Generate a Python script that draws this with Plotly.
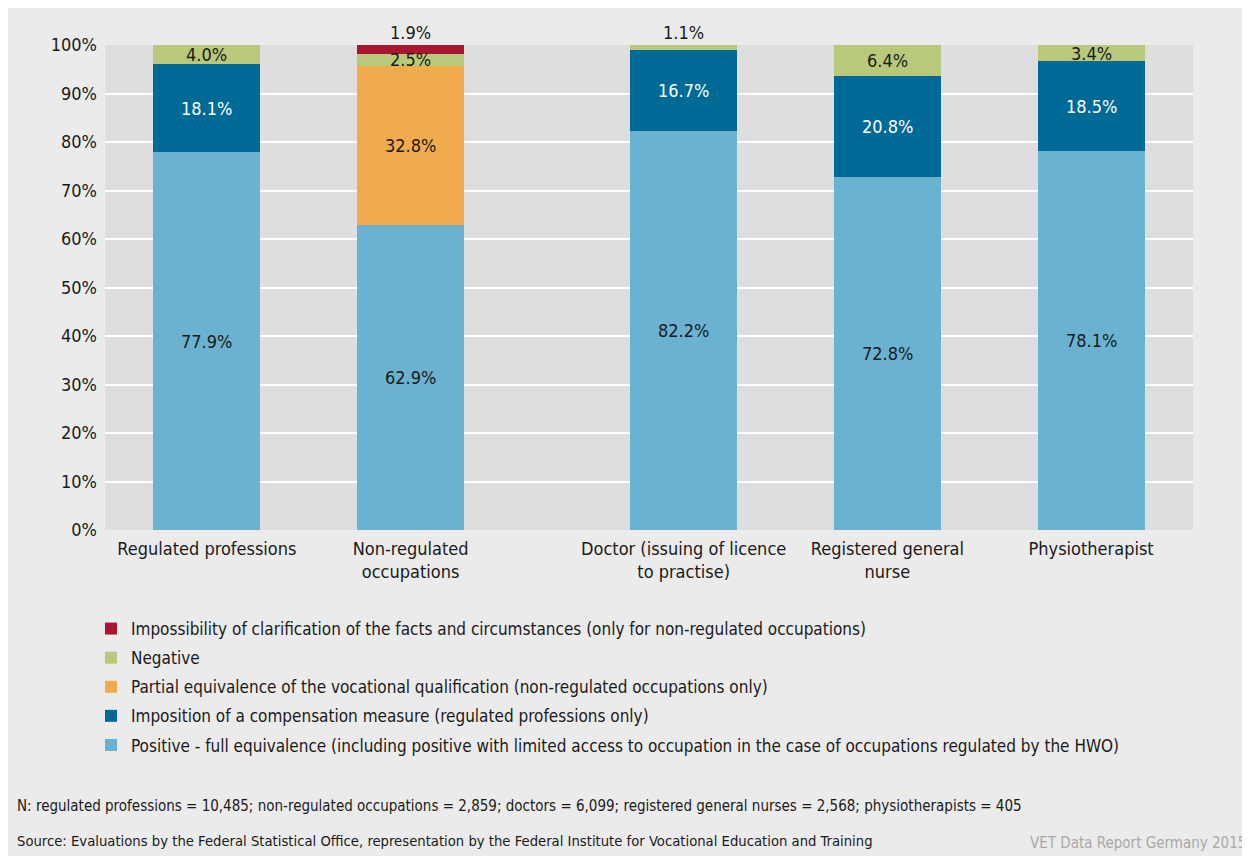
import plotly.graph_objects as go

categories = ["Regulated professions", "Non-regulated<br>occupations",
              "Doctor (issuing of licence<br>to practise)", "Registered general<br>nurse", "Physiotherapist"]
series_names = [
    "Positive - full equivalence (including positive with limited access to occupation in the case of occupations regulated by the HWO)",
    "Imposition of a compensation measure (regulated professions only)",
    "Partial equivalence of the vocational qualification (non-regulated occupations only)",
    "Negative",
    "Impossibility of clarification of the facts and circumstances (only for non-regulated occupations)",
]
positive = [77.9, 62.9, 82.2, 72.8, 78.1]
compensation = [18.1, 0, 16.7, 20.8, 18.5]
partial = [0, 32.8, 0, 0, 0]
negative = [4.0, 2.5, 1.1, 6.4, 3.4]
impossibility = [0, 1.9, 0, 0, 0]
y_ticks = [0, 10, 20, 30, 40, 50, 60, 70, 80, 90, 100]
y_ticktext = ["0%", "10%", "20%", "30%", "40%", "50%", "60%", "70%", "80%", "90%", "100%"]
footnote = "N: regulated professions = 10,485; non-regulated occupations = 2,859; doctors = 6,099; registered general nurses = 2,568; physiotherapists = 405"
source = "Source: Evaluations by the Federal Statistical Office, representation by the Federal Institute for Vocational Education and Training"
credit = "VET Data Report Germany 2015"

# layout: bar positions (gap between the two groups)
x_pos = [0, 1, 2.34, 3.34, 4.34]
colors = ["#6AB2CF", "#006A96", "#F0AC4C", "#B8C97B", "#A8172E"]
label_colors = ["#1a1a1a", "#ffffff", "#1a1a1a", "#1a1a1a", "#1a1a1a"]
FONT = "DejaVu Sans Condensed, Liberation Sans Narrow, sans-serif"

all_series = [positive, compensation, partial, negative, impossibility]

# plot area in figure pixels
PL, PR, PT, PB = 97, 1185, 37, 522
PW, PH = PR - PL, PB - PT


def px(xp):
    return (xp - PL) / PW


def py(yp):
    return (PB - yp) / PH


fig = go.Figure()
n = len(series_names)
for k, (name, vals, col) in enumerate(zip(series_names, all_series, colors)):
    fig.add_trace(go.Bar(x=x_pos, y=vals, name=name, legendgroup=f"g{k}", legendrank=n - k,
                         marker=dict(color=col, line=dict(width=0)),
                         width=0.525, hoverinfo="skip"))

annotations = []
base = [0.0] * len(x_pos)
totals = [sum(s[i] for s in all_series) for i in range(len(x_pos))]
for vals, lc in zip(all_series, label_colors):
    for i, v in enumerate(vals):
        if v > 0:
            if v < 2:
                annotations.append(dict(x=x_pos[i], y=min(totals[i], 100), text=f"{v:.1f}%", showarrow=False,
                                        yanchor="bottom", font=dict(family=FONT, size=18, color="#1a1a1a")))
            else:
                annotations.append(dict(x=x_pos[i], y=base[i] + v / 2, text=f"{v:.1f}%", showarrow=False,
                                        font=dict(family=FONT, size=18, color=lc)))
        base[i] += v

annotations += [
    dict(xref="paper", yref="paper", x=px(7), y=py(798), xanchor="left", yanchor="middle",
         text=footnote, showarrow=False, font=dict(family=FONT, size=15, color="#1a1a1a")),
    dict(xref="paper", yref="paper", x=px(7), y=py(832), xanchor="left", yanchor="middle",
         text=source, showarrow=False, font=dict(family=FONT, size=14.7, color="#1a1a1a")),
    dict(xref="paper", yref="paper", x=px(1240), y=py(835), xanchor="right", yanchor="middle",
         text=credit, showarrow=False, font=dict(family=FONT, size=15, color="#A8A8A8")),
]

fig.update_layout(
    width=1250, height=856,
    margin=dict(l=PL, r=1250 - PR, t=PT, b=856 - PB),
    barmode="stack",
    paper_bgcolor="#EBEBEB",
    plot_bgcolor="#DEDEDE",
    font=dict(family=FONT, size=18, color="#1a1a1a"),
    xaxis=dict(tickmode="array", tickvals=x_pos, ticktext=categories, range=[-0.5, 4.84],
               showgrid=False, zeroline=False, ticks="", tickfont=dict(size=18), ticklabelstandoff=6),
    yaxis=dict(range=[0, 100], tickmode="array", tickvals=y_ticks, ticktext=y_ticktext,
               showgrid=True, gridcolor="white", gridwidth=2, zeroline=False, ticks="",
               tickfont=dict(size=18), ticklabelstandoff=7),
    legend=dict(orientation="v", traceorder="grouped", x=px(83), xanchor="left",
                y=py(603), yanchor="top", bgcolor="rgba(0,0,0,0)",
                font=dict(family=FONT, size=17, color="#1a1a1a"), tracegroupgap=4),
    annotations=annotations,
    showlegend=True,
)

fig.write_html("out.html")
